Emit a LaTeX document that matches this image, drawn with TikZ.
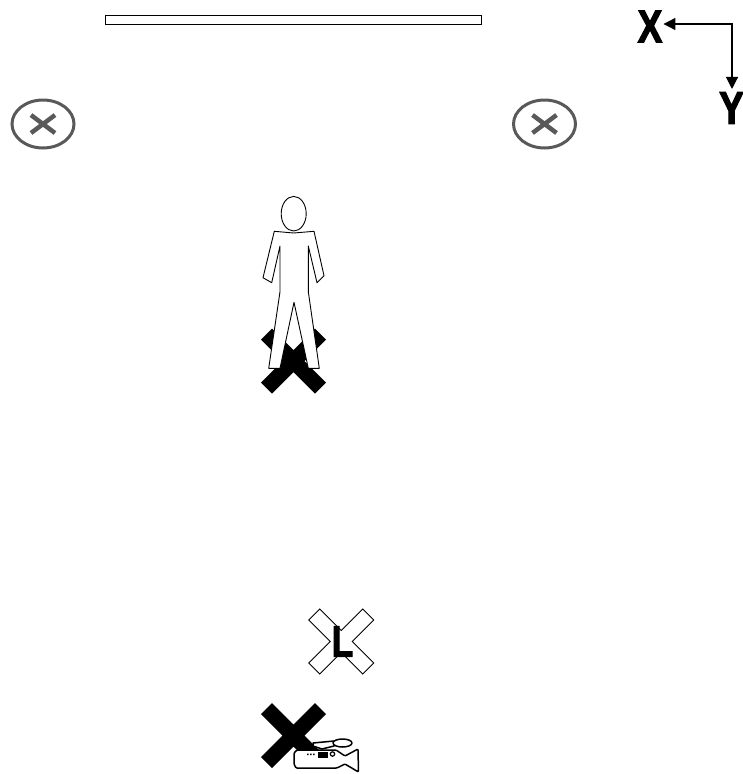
\documentclass[tikz,border=0pt]{standalone}
\usepackage{fontspec}
\setmainfont{Liberation Sans}
\newfontface\axisface{Liberation Sans Bold}[FakeStretch=0.8,FakeBold=2.5]
\usetikzlibrary{arrows.meta}
\definecolor{ringgray}{HTML}{595959}
\tikzset{
  x=1pt,y=-1pt,
  crossmark/.pic={\path[pic actions] (-21.5,-32.5)--(0,-11)--(21.5,-32.5)--(32.5,-21.5)--(11,0)--(32.5,21.5)--(21.5,32.5)--(0,11)--(-21.5,32.5)--(-32.5,21.5)--(-11,0)--(-32.5,-21.5)--cycle;},
  ringmark/.pic={
    \draw[ringgray,line width=3pt] (0,0) ellipse [x radius=31,y radius=24];
    \draw[ringgray,line width=4.5pt] (-12,-9)--(12,9) (-12,9)--(12,-9);},
  axislabel/.style={inner sep=0pt,font=\axisface\fontsize{46}{46}\selectfont},
  axisline/.style={line width=1.2pt,{Triangle[length=12pt,width=12pt]}-{Triangle[length=12pt,width=12pt]}},
  outline/.style={draw=black,fill=white,line width=0.9pt,line join=round},
}
\begin{document}
\begin{tikzpicture}
\useasboundingbox (0,0) rectangle (743,774);
% wall
\draw[fill=white,line width=1pt] (105.5,15) rectangle (481.5,24.5);
% axes
\node[axislabel] (labelX) at (650,26.5) {X};
\node[axislabel] (labelY) at (731.5,108) {Y};
\coordinate (corner) at (732,24);
\draw[axisline,shorten <=1pt,shorten >=3pt] (labelX.east |- corner) -- (corner) -- (corner |- labelY.north);
% rings
\pic at (43,124) {ringmark};
\pic at (544.5,124) {ringmark};
% figure and its mark
\pic[fill=black] at (293.5,361) {crossmark};
\draw[outline] (293.7,233) -- (274.3,231.3) -- (263,277.7) -- (271.7,282.7) -- (280,246) -- (280,291.7) -- (268.7,368.3) -- (280,368.3) -- (294,302.3) -- (308.3,368.3) -- (319.3,368.3) -- (308.3,291.7) -- (308.3,246) -- (317,282.7) -- (324,275.7) -- (314,231.3) -- cycle;
\draw[outline] (293.7,213.7) ellipse [x radius=12.5,y radius=17.3];
% L mark
\pic[draw=black,fill=white,line width=0.8pt] at (341.3,641.5) {crossmark};
\node[axislabel,font=\axisface\fontsize{44}{44}\selectfont] (labelL) at (342.5,641.5) {L};
% camera and its mark
\pic[fill=black] at (293.5,735.5) {crossmark};
\draw[outline,line width=1.5pt] (313,743) -- (334,741) -- (334,746) -- (322,749) -- (313,746) -- cycle;
\draw[outline,line width=1.5pt] (342.5,743) ellipse [x radius=9.5,y radius=4];
\draw[outline,line width=1.5pt,rounded corners=1pt] (297,750) -- (336,750) -- (345,756) -- (358,749) -- (358.5,772) -- (345,764) -- (337,768) -- (296,768) -- (294,764) -- (294,753) -- cycle;
\fill (307,753.5) rectangle +(1.6,1.6) (310,753.5) rectangle +(1.6,1.6) (313,753.5) rectangle +(1.6,1.6);
\fill (318,752) rectangle (328,758);
\draw[line width=1.2pt] (332.5,754) circle [radius=2.2];
\end{tikzpicture}
\end{document}
